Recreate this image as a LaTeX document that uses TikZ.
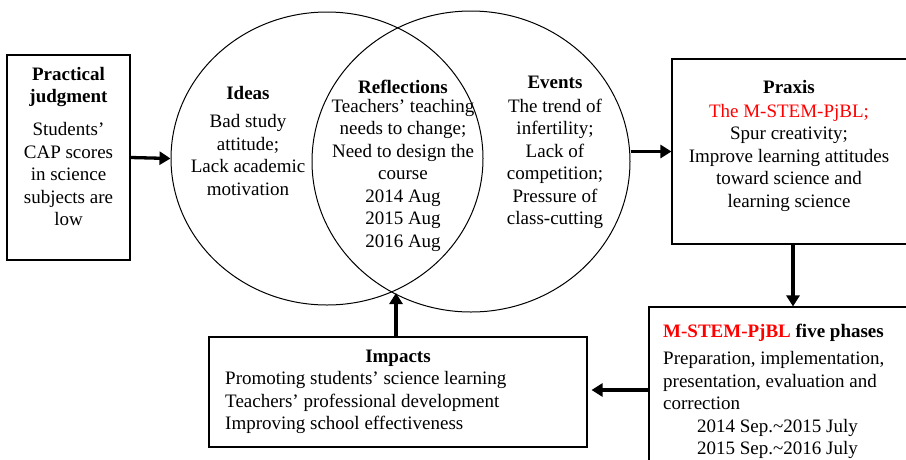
\documentclass[tikz,border=0pt]{standalone}
\usepackage{fontspec}
\setmainfont{Liberation Serif}
\usetikzlibrary{shapes.geometric,arrows.meta}

\definecolor{hired}{RGB}{255,0,0}

\tikzset{
  frame/.style={draw, line width=1.1pt, rectangle, inner sep=0pt},
  ring/.style={draw, line width=1pt, ellipse, inner sep=0pt},
  txt/.style={inner sep=0pt, font=\fontsize{19}{22.5}\selectfont, align=center},
  head/.style={txt, font=\fontsize{19}{22.5}\selectfont\bfseries},
  arr/.style={line width=3.3pt, -{Triangle[length=11pt,width=13pt]}},
}

\begin{document}
\begin{tikzpicture}[x=1pt,y=-1pt]
  \clip (0,0) rectangle (906,459);
  \fill[white] (0,0) rectangle (906,459);

  % boxes
  \node[frame, minimum width=123pt, minimum height=205pt] (judge) at (68.5,157.5) {};
  \node[frame, minimum width=240pt, minimum height=185pt] (praxis) at (792,151.5) {};
  \node[frame, minimum width=300pt, minimum height=200pt] (phases) at (799,407) {};
  \node[frame, minimum width=378pt, minimum height=110pt] (impacts) at (398,392) {};

  % the two overlapping rings
  \node[ring, minimum width=312pt, minimum height=293pt] (ideasring) at (327,158.5) {};
  \node[ring, minimum width=318pt, minimum height=301pt] (eventsring) at (471,161.5) {};
  \coordinate (meet) at (396,293);

  % texts: practical judgment
  \node[head] (judgeT) at (68.5,87) {Practical\\judgment};
  \node[txt] (judgeB) at (68.5,174) {Students’\\CAP scores\\in science\\subjects are\\low};

  % ideas
  \node[head] (ideasT) at (248,93) {Ideas};
  \node[txt] (ideasB) at (248,155) {Bad study\\attitude;\\Lack academic\\motivation};

  % reflections
  \node[head] (reflT) at (403,87) {Reflections};
  \node[txt] (reflB) at (403,175) {Teachers’ teaching\\needs to change;\\Need to design the\\course\\2014 Aug\\2015 Aug\\2016 Aug};

  % events
  \node[head] (evT) at (555,82) {Events};
  \node[txt] (evB) at (555,164) {The trend of\\infertility;\\Lack of\\competition;\\Pressure of\\class-cutting};

  % praxis
  \node[head] (prT) at (789,87) {Praxis};
  \node[txt] (prB) at (789,157.5) {\textcolor{hired}{The M-STEM-PjBL;}\\Spur creativity;\\Improve learning attitudes\\toward science and\\learning science};

  % impacts
  \node[head] (imT) at (398,358) {Impacts};
  \node[txt, align=left, anchor=west] (imB) at (225,402.5) {Promoting students’ science learning\\Teachers’ professional development\\Improving school effectiveness};

  % five phases
  \node[head, anchor=west] (phT) at (663,333) {\textcolor{hired}{M-STEM-PjBL} five phases};
  \node[txt, align=left, anchor=west] (phB) at (663,405) {Preparation, implementation,\\presentation, evaluation and\\correction\\\hspace*{34pt}2014 Sep.\textasciitilde 2015 July\\\hspace*{34pt}2015 Sep.\textasciitilde 2016 July};

  % connectors
  \draw[arr] (judge.east) -- (ideasring.west);
  \draw[arr] (eventsring.east |- praxis.west) -- (praxis.west);
  \draw[arr] ([xshift=1pt]praxis.south) -- ([xshift=1pt]praxis.south |- phases.north);
  \draw[arr] (phases.west |- 0,390) -- ([xshift=4pt]impacts.east |- 0,390);
  \draw[arr] (impacts.north -| meet) -- (meet);
\end{tikzpicture}
\end{document}
